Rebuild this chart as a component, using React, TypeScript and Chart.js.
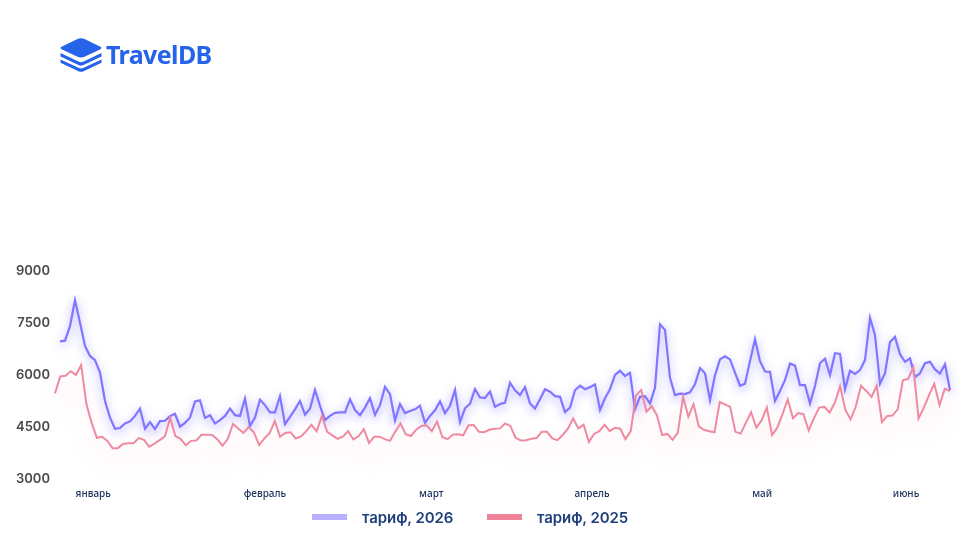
import React, { useEffect, useRef } from "react";
import { Chart, registerables } from "chart.js";

Chart.register(...registerables);

const tariff2026 = [
  6970, 6990, 7410, 8160, 7510, 6840, 6550, 6430, 6070, 5250, 4770, 4450, 4470, 4600, 4660, 4820, 5030, 4450, 4640, 4440,
  4670, 4680, 4810, 4880, 4510, 4620, 4770, 5240, 5270, 4760, 4840, 4600, 4700, 4820, 5030, 4840, 4820, 5320, 4530, 4770,
  5290, 5130, 4920, 4920, 5390, 4580, 4790, 5010, 5250, 4860, 5030, 5570, 5110, 4700, 4820, 4910, 4920, 4920, 5300, 4990,
  4840, 5060, 5330, 4850, 5130, 5660, 5450, 4690, 5160, 4900, 4960, 5010, 5110, 4620, 4820, 4980, 5240, 4900, 5110, 5570,
  4640, 5040, 5170, 5590, 5350, 5340, 5520, 5080, 5160, 5200, 5780, 5560, 5420, 5650, 5180, 5030, 5300, 5590, 5520, 5390,
  5370, 4930, 5060, 5560, 5690, 5590, 5650, 5730, 4990, 5330, 5590, 6000, 6120, 5970, 6060, 5010, 5370, 5390, 5180, 5630,
  7460, 7300, 5920, 5420, 5460, 5450, 5500, 5730, 6200, 6050, 5270, 5990, 6450, 6540, 6450, 6070, 5690, 5750, 6400, 7030,
  6400, 6100, 6090, 5250, 5540, 5850, 6330, 6270, 5710, 5710, 5180, 5680, 6340, 6470, 6000, 6630, 6610, 5590, 6120, 6030,
  6140, 6430, 7650, 7150, 5750, 6050, 6950, 7100, 6600, 6380, 6480, 5940, 6050, 6340, 6380, 6160, 6040, 6310, 5560,
];

const tariff2025 = [
  5470, 5960, 5980, 6110, 6000, 6290, 5160, 4620, 4190, 4220, 4100, 3890, 3890, 4010, 4030, 4030, 4180, 4130, 3930, 4020,
  4120, 4230, 4770, 4240, 4160, 3970, 4100, 4110, 4280, 4280, 4270, 4150, 3960, 4150, 4590, 4460, 4330, 4500, 4350, 3980,
  4170, 4320, 4670, 4220, 4330, 4350, 4170, 4230, 4380, 4560, 4380, 4820, 4360, 4260, 4160, 4220, 4380, 4140, 4230, 4440,
  4040, 4220, 4220, 4150, 4100, 4360, 4600, 4290, 4240, 4420, 4530, 4550, 4380, 4660, 4210, 4150, 4280, 4290, 4260, 4550,
  4560, 4360, 4350, 4420, 4450, 4460, 4600, 4530, 4190, 4110, 4120, 4160, 4180, 4360, 4360, 4170, 4120, 4270, 4450, 4750,
  4460, 4570, 4070, 4300, 4380, 4560, 4380, 4480, 4450, 4150, 4380, 5410, 5570, 4940, 5100, 4840, 4270, 4300, 4130, 4340,
  5370, 4800, 5160, 4520, 4420, 4380, 4350, 5220, 5150, 5080, 4360, 4310, 4620, 4930, 4480, 4690, 5060, 4270, 4480, 4870,
  5300, 4750, 4900, 4870, 4400, 4750, 5060, 5080, 4920, 5200, 5680, 5000, 4720, 5090, 5690, 5540, 5370, 5690, 4640, 4820,
  4830, 5010, 5850, 5890, 6230, 4750, 5060, 5420, 5750, 5130, 5600, 5540,
];

const monthLabels = ["январь", "февраль", "март", "апрель", "май", "июнь"];
const monthTicks = [7.3, 40.1, 71.9, 102.6, 135.1, 162.6];
const yTicks = [3000, 4500, 6000, 7500, 9000];
const seriesNames = ["тариф, 2026", "тариф, 2025"];
const swatchColors = ["#b8b0ff", "#ee8299"];
const lineColors = ["#8076ff", "#ef8aa0"];

const glow = {
  id: "glow",
  beforeDatasetDraw(chart: any, args: any) {
    const ctx = chart.ctx;
    ctx.save();
    if (args.index === 0) {
      ctx.shadowColor = "rgba(110,100,255,0.65)";
      ctx.shadowBlur = 10;
      ctx.shadowOffsetY = 3;
    } else {
      ctx.shadowColor = "rgba(240,110,135,0.3)";
      ctx.shadowBlur = 22;
      ctx.shadowOffsetY = 14;
    }
  },
  afterDatasetDraw(chart: any) {
    chart.ctx.restore();
  },
};

export default function App() {
  const ref = useRef<HTMLCanvasElement>(null);
  useEffect(() => {
    document.body.style.margin = "0";
    const chart = new Chart(ref.current as HTMLCanvasElement, {
      type: "line",
      data: {
        datasets: [
          {
            label: seriesNames[0],
            data: tariff2026.map((y, i) => ({ x: i, y })),
            xAxisID: "xb",
            borderColor: lineColors[0],
            borderWidth: 2.2,
            pointRadius: 0,
            tension: 0,
            order: 2,
            clip: false,
          },
          {
            label: seriesNames[1],
            data: tariff2025.map((y, i) => ({ x: i, y })),
            xAxisID: "x",
            borderColor: lineColors[1],
            borderWidth: 2,
            pointRadius: 0,
            tension: 0,
            order: 1,
            clip: false,
          },
        ] as any,
      },
      options: {
        animation: false,
        responsive: false,
        layout: { padding: { top: 271, right: 10, left: 0, bottom: 0 } },
        plugins: {
          tooltip: { enabled: false },
          legend: { display: false },
        },
        scales: {
          x: {
            type: "linear",
            min: 0,
            max: 171,
            grid: { display: false, drawTicks: false },
            border: { display: false },
            afterBuildTicks(axis: any) {
              axis.ticks = monthTicks.map((value) => ({ value }));
            },
            afterFit(axis: any) {
              axis.height = 61;
            },
            ticks: {
              autoSkip: false,
              maxRotation: 0,
              padding: 9,
              color: "#1e3560",
              font: { family: "Noto Sans", size: 10, weight: 500 },
              callback: (v: any) => monthLabels[monthTicks.indexOf(v)],
            },
          },
          xb: { type: "linear", display: false, min: -1, max: 178 },
          y: {
            min: 3000,
            max: 9000,
            grid: { display: false, drawTicks: false },
            border: { display: false },
            afterBuildTicks(axis: any) {
              axis.ticks = yTicks.map((value) => ({ value }));
            },
            afterFit(axis: any) {
              axis.width = 55;
            },
            ticks: {
              padding: 5,
              color: "#4a4a4a",
              font: { family: "Inter", size: 13, weight: 600 },
              callback: (v: any) => String(v),
            },
          },
        },
      } as any,
      plugins: [glow],
    });
    return () => chart.destroy();
  }, []);

  const legendLeft = [312, 487];

  return (
    <div style={{ position: "relative", width: 960, height: 540, background: "#fff" }}>
      <canvas ref={ref} width={960} height={540} style={{ position: "absolute", left: 0, top: 0 }} />
      {seriesNames.map((name, i) => (
        <div key={name} style={{ position: "absolute", left: legendLeft[i], top: 506, height: 22, display: "flex", alignItems: "center" }}>
          <span style={{ display: "block", width: 35, height: 6, background: swatchColors[i], marginRight: 15 }} />
          <span style={{ fontFamily: "Inter", fontWeight: 600, fontSize: 15, letterSpacing: "-0.08px", color: "#1e3f7a", whiteSpace: "nowrap" }}>{name}</span>
        </div>
      ))}
      <svg width={46} height={38} viewBox="0 0 46 38" style={{ position: "absolute", left: 58, top: 36 }}>
        <path d="M19 3.2 Q23 1.2 27 3.2 L42 10.6 Q45 12 42 13.4 L27 20.6 Q23 22.4 19 20.6 L4 13.4 Q1 12 4 10.6 Z" fill="#2563eb" />
        <path d="M2.5 17 L21 25.8 Q23 26.6 25 25.8 L43.5 17 V20.4 L25 29.2 Q23 30 21 29.2 L2.5 20.4 Z" fill="#2563eb" />
        <path d="M2.5 23.4 L21 32 Q23 32.8 25 32 L43.5 23.4 V26.8 L25 35.4 Q23 36.2 21 35.4 L2.5 26.8 Z" fill="#2563eb" />
      </svg>
      <div
        style={{
          position: "absolute",
          left: 106,
          top: 37,
          fontFamily: "Noto Sans",
          fontWeight: 700,
          fontSize: 25,
          lineHeight: "34px",
          color: "#2563eb",
          letterSpacing: "-0.6px",
        }}
      >
        TravelDB
      </div>
    </div>
  );
}
